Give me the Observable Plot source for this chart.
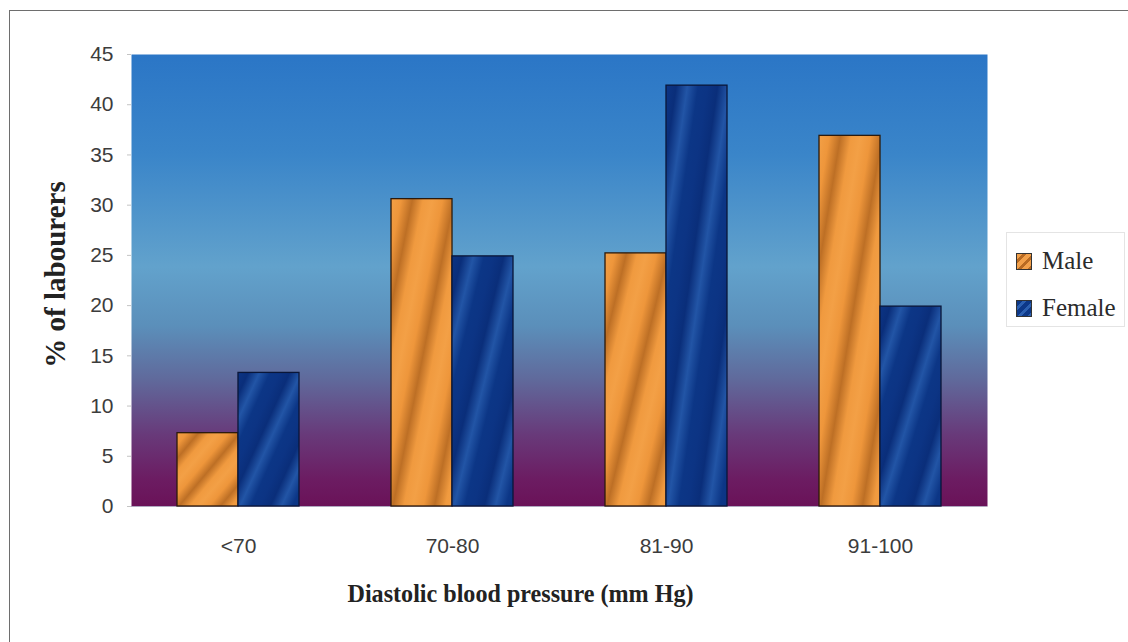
<!DOCTYPE html>
<html>
<head>
<meta charset="utf-8">
<script src="https://cdn.jsdelivr.net/npm/d3@7"></script>
<script src="https://cdn.jsdelivr.net/npm/@observablehq/plot@0.6"></script>
<style>
  html, body { margin: 0; padding: 0; background: #fff; }
  #chart { position: relative; width: 1128px; height: 642px; overflow: hidden; }
  #chart svg { position: absolute; left: 0; top: 0; }
  #border { position: absolute; left: 9px; top: 10px; right: -4px; bottom: -4px;
            border-left: 1.5px solid #6e6e6e; border-top: 1.5px solid #6e6e6e; }
  #legend { position: absolute; left: 1006px; top: 232px; width: 119px; height: 95px;
            border: 1px solid #e4e4e4; box-sizing: border-box;
            font-family: "Liberation Serif", "Times New Roman", serif; font-size: 25px; color: #2b2b2b; }
  .item { position: absolute; left: 9px; height: 20px; display: flex; align-items: center; white-space: nowrap; }
  .swatch { width: 16px; height: 17px; box-sizing: border-box; margin-right: 10px; border: 1px solid #333; }
</style>
</head>
<body>
<div id="chart">
  <div id="border"></div>
  <div id="legend"></div>
</div>
<script>
// Diastolic blood pressure of labourers, by sex
const categories = ["<70", "70-80", "81-90", "91-100"];
const seriesNames = ["Male", "Female"];
const maleValues = [7.3, 30.6, 25.2, 36.9];
const femaleValues = [13.3, 24.9, 41.9, 19.9];
const yTicks = [0, 5, 10, 15, 20, 25, 30, 35, 40, 45];
const xTitle = "Diastolic blood pressure (mm Hg)";
const yTitle = "% of labourers";

const rows = categories.flatMap((category, i) => [
  {category, sex: seriesNames[0], value: maleValues[i]},
  {category, sex: seriesNames[1], value: femaleValues[i]}
]);

// layout
const W = 1128, H = 642;
const mL = 131, mR = 141, mT = 54, mB = 136;
const padInner = 0.43, padOuter = 0.215;
const step = (W - mL - mR) / (categories.length - padInner + 2 * padOuter);
const half = step * (1 - padInner) / 2;

// gradient definitions: plot background and striped bar fills
function defs() {
  const d = d3.create("svg:defs");
  const bg = d.append("linearGradient").attr("id", "plot-bg")
    .attr("x1", 0).attr("y1", 0).attr("x2", 0).attr("y2", 1);
  [[0, "#2b76c6"], [0.22, "#3a85c9"], [0.47, "#62a2cc"], [0.6, "#5b8fba"],
   [0.72, "#60699b"], [0.84, "#683a7a"], [0.94, "#6c1c62"], [1, "#6a1258"]]
    .forEach(([o, c]) => bg.append("stop").attr("offset", o).attr("stop-color", c));

  const stripes = (id, stops) => {
    const g = d.append("linearGradient").attr("id", id)
      .attr("gradientUnits", "objectBoundingBox")
      .attr("x1", 0).attr("y1", 0).attr("x2", 0.34).attr("y2", 0.34)
      .attr("spreadMethod", "repeat");
    stops.forEach(([o, c]) => g.append("stop").attr("offset", o).attr("stop-color", c));
  };
  stripes("stripe-male", [[0, "#f3a046"], [0.25, "#ee963b"], [0.52, "#bd6f25"], [0.78, "#f09a3f"], [1, "#f3a046"]]);
  stripes("stripe-female", [[0, "#0c3484"], [0.25, "#0a2e7a"], [0.52, "#2255a6"], [0.78, "#0c3686"], [1, "#0c3484"]]);
  return d.node();
}

const plot = Plot.plot({
  width: W,
  height: H,
  marginLeft: mL,
  marginRight: mR,
  marginTop: mT,
  marginBottom: mB,
  style: {fontFamily: "'Liberation Sans', Arial, sans-serif", fontSize: "21px", color: "#3c3c3c", background: "transparent"},
  x: {domain: categories, paddingInner: padInner, paddingOuter: padOuter, axis: null},
  y: {domain: [0, 45], axis: null},
  marks: [
    defs,
    Plot.frame({fill: "url(#plot-bg)", stroke: null}),
    Plot.ruleY([0], {stroke: "#b0a8c0"}),
    Plot.barY(rows.filter(d => d.sex === seriesNames[0]), {
      x: "category", y: "value", fill: "url(#stripe-male)",
      stroke: "#2b1a0c", strokeWidth: 1.3, insetRight: half
    }),
    Plot.barY(rows.filter(d => d.sex === seriesNames[1]), {
      x: "category", y: "value", fill: "url(#stripe-female)",
      stroke: "#0a1638", strokeWidth: 1.3, insetLeft: half
    }),
    Plot.axisX({tickSize: 0, tickPadding: 32, fontSize: 21, label: null}),
    Plot.axisY({ticks: yTicks, tickSize: 4, tickPadding: 14, fontSize: 21, stroke: "#c4c4c4", label: null}),
    Plot.text([xTitle], {
      text: d => d, frameAnchor: "bottom", textAnchor: "middle", dx: -39, dy: 95,
      fontFamily: "'Liberation Serif', 'Times New Roman', serif", fontWeight: "bold",
      fontSize: 25, fill: "#222", className: "x-title"
    }),
    Plot.text([yTitle], {
      text: d => d, frameAnchor: "left", textAnchor: "middle", rotate: -90, dx: -76, dy: -6,
      fontFamily: "'Liberation Serif', 'Times New Roman', serif", fontWeight: "bold",
      fontSize: 29, fill: "#222"
    })
  ]
});

// the x title is set a little wide
plot.querySelectorAll(".x-title text").forEach(t => { t.setAttribute("textLength", 346); t.setAttribute("lengthAdjust", "spacingAndGlyphs"); });

const chart = document.getElementById("chart");
chart.insertBefore(plot, chart.firstChild);

// legend
const legend = document.getElementById("legend");
const swatchFill = {
  Male: "repeating-linear-gradient(135deg, #f2a04a 0 4px, #b86a22 4px 7px)",
  Female: "repeating-linear-gradient(135deg, #0d3888 0 4px, #2b5fb0 4px 7px)"
};
seriesNames.forEach((name, i) => {
  const item = document.createElement("div");
  item.className = "item";
  item.style.top = (18 + i * 47) + "px";
  const sw = document.createElement("span");
  sw.className = "swatch";
  sw.style.background = swatchFill[name];
  item.appendChild(sw);
  item.appendChild(document.createTextNode(name));
  legend.appendChild(item);
});
</script>
</body>
</html>
